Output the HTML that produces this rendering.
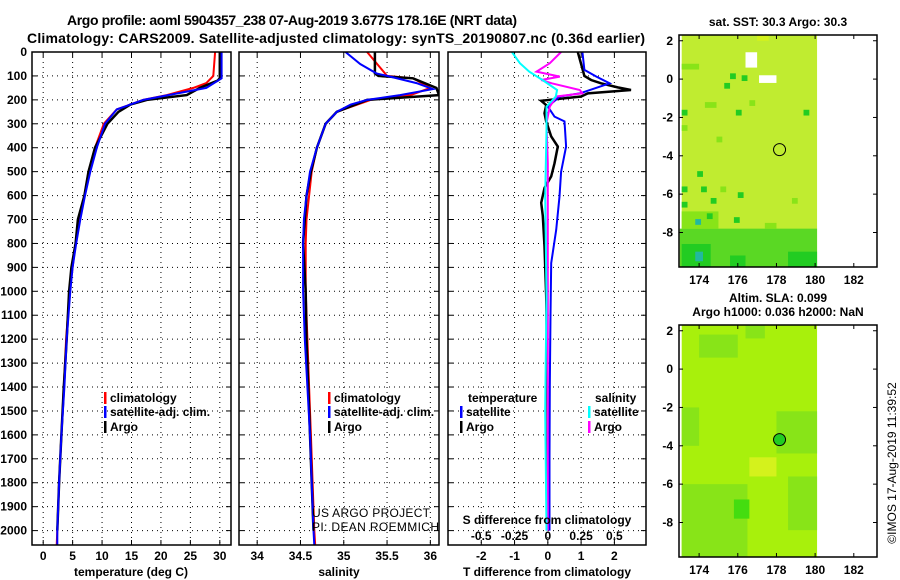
<!DOCTYPE html>
<html><head><meta charset="utf-8"><style>
body{margin:0;background:#fff}
svg{display:block;font-family:"Liberation Sans",sans-serif;font-weight:bold}
</style></head><body>
<svg id="c" width="900" height="580" viewBox="0 0 900 580"></svg>
<script>
// ---- data ----
const depthTicks=[0,100,200,300,400,500,600,700,800,900,1000,1100,1200,1300,1400,1500,1600,1700,1800,1900,2000];
const tempTicks=[0,5,10,15,20,25,30];
const salTicks=[34,34.5,35,35.5,36];
const salTickLabels=["34","34.5","35","35.5","36"];
const dTTicks=[-2,-1,0,1,2];
const dSTickLabels=["-0.5","-0.25","0","0.25","0.5"];
const dSTicks=[-0.5,-0.25,0,0.25,0.5];
const tClimD=[0,100,130,150,180,200,240,300,400,500,600,700,800,900,1000,1200,1400,1600,1800,2000,2060];
const tClimV=[29.2,28.9,27.7,25.5,21,17,12.5,10.3,8.8,7.7,7.0,6.2,5.5,5.0,4.5,3.9,3.5,3.1,2.7,2.4,2.3];
const tSatD=[0,110,150,200,240,300,400,500,600,700,800,900,1000,1100,1200,1400,1600,1800,2000,2060];
const tSatV=[30.3,30.3,27.7,17,12.5,10.5,9.1,8.0,7.1,6.3,5.6,5.0,4.6,4.3,4.0,3.6,3.1,2.7,2.4,2.4];
const tArgoD=[0,110,120,150,180,200,220,250,300,400,500,600,700,800,900,1000,1200,1400,1600,1800,2000];
const tArgoV=[30.0,30.0,29.6,26.6,24.4,17.6,14.8,12.8,10.9,8.8,7.7,7.0,5.9,5.5,4.8,4.4,4.0,3.5,3.1,2.7,2.4];
const sClimD=[0,100,110,150,180,200,250,300,400,500,600,700,800,1000,1200,1400,1600,1800,2000,2060];
const sClimV=[35.27,35.5,35.8,36.0,35.77,35.31,34.92,34.79,34.69,34.63,34.6,34.57,34.56,34.56,34.58,34.6,34.62,34.64,34.66,34.67];
const sSatD=[0,50,90,100,130,155,180,200,220,250,300,400,500,600,700,800,1000,1200,1400,1600,1800,2000,2060];
const sSatV=[35.02,35.19,35.38,35.5,35.84,36.03,35.65,35.27,35.08,34.92,34.79,34.69,34.61,34.57,34.54,34.53,34.53,34.55,34.58,34.61,34.63,34.65,34.66];
const sArgoD=[0,90,100,110,150,180,200,250,300,400,500,600,700,800,1000,1200,1400,1600,1800,2000];
const sArgoV=[35.36,35.36,35.4,35.8,36.07,36.1,35.27,34.92,34.79,34.69,34.62,34.57,34.55,34.53,34.56,34.57,34.59,34.61,34.63,34.65];
const dTSatD=[0,75,103,131,173,186,228,270,290,395,500,604,743,882,1100,1400,1700,2000];
const dTSatV=[1.04,1.1,1.46,1.86,0.96,0.36,0.0,0.2,0.5,0.55,0.4,0.35,0.25,0.1,0.08,0.06,0.05,0.05];
const dTArgoD=[0,100,117,131,148,159,173,186,204,222,256,290,353,395,465,520,568,630,685,812,1020,1300,1600,2000];
const dTArgoV=[0.9,1.1,1.3,1.6,2.1,2.5,1.2,1.0,-0.2,-0.05,-0.1,-0.05,0.1,0.3,0.2,0.1,-0.1,-0.2,-0.15,-0.1,-0.05,-0.02,0,0];
const dSArgoD=[0,47,82,103,117,131,159,173,186,228,297,465,800,1200,1600,2000];
const dSArgoV=[0.10,0.015,-0.085,0.09,-0.05,0.03,0.24,0.26,0.065,0.015,-0.01,0.0,0.0,0.0,0.0,0.0];
const dSSatD=[0,47,82,117,159,186,228,325,604,1020,1500,2000];
const dSSatV=[-0.27,-0.21,-0.14,-0.04,0.07,0.06,-0.01,-0.01,-0.02,-0.01,-0.02,-0.01];
const lonTicks=[174,176,178,180,182];
const latTicks=[2,0,-2,-4,-6,-8];
// map patches: [lon0,lon1,latTop,latBottom,colour-index]
const sstPatches=[[173,180.1,-7.8,-9.8,5],[173.1,174.6,-8.6,-9.8,2],[175.6,176.4,-9.2,-9.8,2],[178.6,180.1,-9,-9.8,2],[173.1,175,-6.9,-7.8,1],
[176.2,177,0.2,0.6,1],[174.8,175.4,-1,-0.4,2],[173.4,174,-0.2,0.2,1],[178.6,180.1,-8.6,-7.6,1],[177,177.6,2.3,2,3],
[173.9,174.2,-4.8,-5.1,2],[174.4,174.7,-7,-7.3,2],[173.8,174.1,-7.3,-7.6,4],[173.8,174.2,-9.0,-9.5,4],[175.3,175.6,-0.2,-0.5,2],
[175.6,175.9,0.3,0,2],[176.2,176.5,0.2,-0.1,2],[175.9,176.2,-1.6,-1.9,2],[173.1,173.4,-1.6,-1.9,2],[174.1,174.4,-5.6,-5.9,2],
[175.1,175.4,-5.6,-5.9,1],[176,176.3,-5.9,-6.2,2],[174.6,174.9,-6.2,-6.5,2],[173.1,173.4,-5.6,-5.9,2],[179.4,179.7,-1.6,-1.9,2],
[176.6,176.9,-1.1,-1.4,1],[174.3,174.9,-1.2,-1.5,1],[173.1,174,0.8,0.5,1],[177.4,178,-7.5,-7.8,1],[174.9,175.2,-3,-3.3,1],
[173.1,173.4,-2.4,-2.7,1],[178.8,179.1,-6.2,-6.5,1],[173.1,173.4,-6.4,-6.7,2],[175.8,176.1,-7.2,-7.5,2]];
const sstHoles=[[176.4,177,1.4,0.6],[177.1,178,0.2,-0.2]];
const slaPatches=[[173.1,176.5,-6,-9.8,1],[175.8,176.6,-6.8,-7.8,6],[178,180.1,-2.2,-4.4,1],[176.6,178,-4.6,-5.6,3],[178.6,180.1,-5.6,-8.4,1],[174,176,1.8,0.6,1],[176.4,177.4,2.3,1.6,1],[173.1,174,-2,-4,1]];
</script>
<script>
const S=document.getElementById('c');
const NS='http://www.w3.org/2000/svg';
function mk(tag,at,parent){const e=document.createElementNS(NS,tag);for(const k in at)e.setAttribute(k,at[k]);(parent||S).appendChild(e);return e;}
const Y=d=>52+d*0.2393;
const PB=545;
const panels=[
 {name:'temperature-panel',id:'cp1',x0:32,x1:231,v0:-1.9,v1:31.9},
 {name:'salinity-panel',id:'cp2',x0:239,x1:439,v0:33.79,v1:36.1},
 {name:'difference-panel',id:'cp3',x0:448,x1:646,v0:-3,v1:2.95}];
const defs=mk('defs',{});
panels.forEach(p=>{const c=mk('clipPath',{id:p.id},defs);mk('rect',{x:p.x0,y:52,width:p.x1-p.x0,height:PB-52},c);});
function X(p,v){return p.x0+(v-p.v0)/(p.v1-p.v0)*(p.x1-p.x0);}
function txt(x,y,s,size,anchor,name,extra){const t=mk('text',Object.assign({x:x,y:y,'font-size':size,'text-anchor':anchor||'start'},extra||{}));t.textContent=s;


return t;}
txt(292,25,'Argo profile: aoml 5904357_238 07-Aug-2019 3.677S 178.16E (NRT data)',14,'middle','title-line-1',{textLength:450});
txt(336,43,'Climatology: CARS2009. Satellite-adjusted climatology: synTS_20190807.nc (0.36d earlier)',14,'middle','title-line-2',{textLength:618});
depthTicks.forEach(d=>{txt(27,Y(d)+4,String(d),12,'end','depth-tick-label');});
function drawPanel(p,ticks,tlabels){
 const g=mk('g',{});
 
 
 ticks.forEach(v=>{const x=X(p,v);const l=mk('line',{x1:x,x2:x,y1:52,y2:PB,stroke:'#000','stroke-width':1,'stroke-dasharray':'1 4'},g);
  mk('line',{x1:x,x2:x,y1:PB,y2:PB-5,stroke:'#000'},g);mk('line',{x1:x,x2:x,y1:52,y2:57,stroke:'#000'},g);});
 depthTicks.forEach(d=>{const y=Y(d);const l=mk('line',{x1:p.x0,x2:p.x1,y1:y,y2:y,stroke:'#000','stroke-width':1,'stroke-dasharray':'1 4'},g);
  mk('line',{x1:p.x0,x2:p.x0+5,y1:y,y2:y,stroke:'#000'},g);mk('line',{x1:p.x1,x2:p.x1-5,y1:y,y2:y,stroke:'#000'},g);});
 if(tlabels) ticks.forEach((v,i)=>txt(X(p,v),560,tlabels[i],12,'middle','x-tick-label'));
}
function line(p,D,V,col,name,w,scale){const pts=D.map((d,i)=>X(p,V[i]*(scale||1)).toFixed(1)+','+Y(d).toFixed(1)).join(' ');
 const e=mk('polyline',{points:pts,fill:'none',stroke:col,'stroke-width':w||2,'clip-path':'url(#'+p.id+')'});
 
 }
function frame(p){const r=mk('rect',{x:p.x0,y:52,width:p.x1-p.x0,height:PB-52,fill:'none',stroke:'#000','stroke-width':1.5});}
const P1=panels[0],P2=panels[1],P3=panels[2];
drawPanel(P1,tempTicks,tempTicks.map(String));
drawPanel(P2,salTicks,salTickLabels);
drawPanel(P3,dTTicks,dTTicks.map(String));
line(P1,tClimD,tClimV,'#f00','temp-climatology-line');
line(P1,tArgoD,tArgoV,'#000','temp-argo-line',2.5);
line(P1,tSatD,tSatV,'#00f','temp-satellite-line');
line(P2,sClimD,sClimV,'#f00','sal-climatology-line');
line(P2,sArgoD,sArgoV,'#000','sal-argo-line',2.5);
line(P2,sSatD,sSatV,'#00f','sal-satellite-line');
line(P3,dTArgoD,dTArgoV,'#000','dT-argo-line',2.5);
line(P3,dTSatD,dTSatV,'#00f','dT-satellite-line');
line(P3,dSArgoD,dSArgoV,'#f0f','dS-argo-line',2,4);
line(P3,dSSatD,dSSatV,'#0ff','dS-satellite-line',2,4);
[P1,P2,P3].forEach(frame);
txt(131,576,'temperature (deg C)',12,'middle','temperature-axis-title');
txt(339,576,'salinity',12,'middle','salinity-axis-title');
txt(547,576,'T difference from climatology',12,'middle','t-difference-axis-title');
txt(547,524,'S difference from climatology',12,'middle','s-difference-axis-title');
dSTicks.forEach((v,i)=>txt(X(P3,v*4),540,dSTickLabels[i],12,'middle','s-tick-label'));
function leg(x,y,col,label,name){const r=mk('rect',{x:x,y:y-10,width:2.5,height:12,fill:col});txt(x+6,y,label,12,'start',name);}
[104,328].forEach(x=>{leg(x,402,'#f00','climatology','legend-climatology');leg(x,416,'#00f','satellite-adj. clim.','legend-satellite-adj');leg(x,431,'#000','Argo','legend-argo');});
txt(468,402,'temperature',12,'start','legend-temperature-heading');
leg(460,416,'#00f','satellite','legend-t-satellite');leg(460,431,'#000','Argo','legend-t-argo');
txt(595,402,'salinity',12,'start','legend-salinity-heading');
leg(588,416,'#0ff','satellite','legend-s-satellite');leg(588,431,'#f0f','Argo','legend-s-argo');
txt(312,517,'US ARGO PROJECT',12,'start','credit-project',{'font-weight':'normal',textLength:118});
txt(312,531,'PI: DEAN ROEMMICH',12,'start','credit-pi',{'font-weight':'normal',textLength:127});
// ---- maps ----
const cmap=['#c2ee2a','#88e418','#22cc22','#d4f21c','#22b8a0','#5ad824','#44dd10'];
function drawMap(name,top,bot,base,patches,holes,circFill,t1,t2){
 const M={x0:679,x1:877,y0:top,y1:bot,lon0:172.96,lon1:183.2,lat0:2.3,lat1:-9.8};
 const mx=l=>M.x0+(l-M.lon0)/(M.lon1-M.lon0)*(M.x1-M.x0);
 const my=l=>M.y0+(l-M.lat0)/(M.lat1-M.lat0)*(M.y1-M.y0);
 const g=mk('g',{});
 
 
 mk('rect',{x:mx(173.1),y:M.y0,width:mx(180.1)-mx(173.1),height:M.y1-M.y0,fill:base},g);
 patches.forEach(p=>{const r=mk('rect',{x:mx(p[0]),y:my(p[2]),width:mx(p[1])-mx(p[0]),height:my(p[3])-my(p[2]),fill:cmap[p[4]]},g);});
 holes.forEach(p=>mk('rect',{x:mx(p[0]),y:my(p[2]),width:mx(p[1])-mx(p[0]),height:my(p[3])-my(p[2]),fill:'#fff'},g));
 const c=mk('circle',{cx:mx(178.16),cy:my(-3.677),r:6,fill:circFill,stroke:'#000','stroke-width':1},g);
 
 mk('rect',{x:M.x0,y:M.y0,width:M.x1-M.x0,height:M.y1-M.y0,fill:'none',stroke:'#000','stroke-width':1.5},g);
 lonTicks.forEach(l=>{const x=mx(l);mk('line',{x1:x,x2:x,y1:M.y1,y2:M.y1-4,stroke:'#000'},g);mk('line',{x1:x,x2:x,y1:M.y0,y2:M.y0+4,stroke:'#000'},g);txt(x,M.y1+17,String(l),12,'middle','lon-tick-label');});
 latTicks.forEach(l=>{const y=my(l);mk('line',{x1:M.x0,x2:M.x0+4,y1:y,y2:y,stroke:'#000'},g);mk('line',{x1:M.x1,x2:M.x1-4,y1:y,y2:y,stroke:'#000'},g);txt(M.x0-6,y+4,String(l),12,'end','lat-tick-label');});
 txt(778,t1[1],t1[0],12,'middle',name+'-title');
 if(t2) txt(778,t2[1],t2[0],12,'middle',name+'-subtitle');
}
drawMap('sst-map',35,267,'#c0ec30',sstPatches,sstHoles,'none',['sat. SST: 30.3 Argo: 30.3',26]);
drawMap('sla-map',325,557,'#a8f00c',slaPatches,[],'#22cc22',['Altim. SLA: 0.099',302],['Argo h1000: 0.036 h2000: NaN',316]);
txt(0,0,'©IMOS 17-Aug-2019 11:39:52',12,'middle','timestamp-credit',{transform:'translate(896,463) rotate(-90)','font-weight':'normal'});
</script>
</body></html>
